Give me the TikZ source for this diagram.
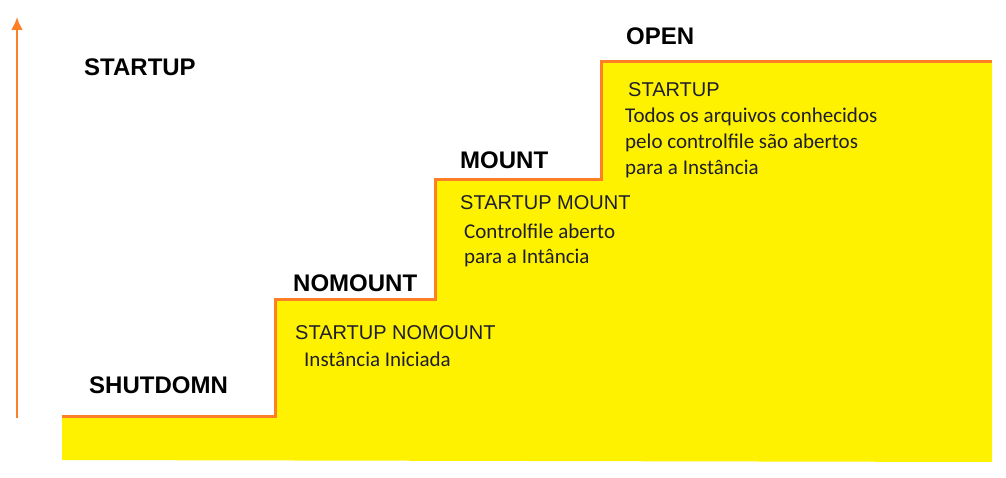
\documentclass[tikz,border=0pt]{standalone}
\usepackage{fontspec}
\setmainfont{Liberation Sans}
\newfontfamily\calibri{Carlito}
\usetikzlibrary{arrows.meta}
\definecolor{amarelo}{RGB}{255,242,0}
\definecolor{laranja}{RGB}{255,127,39}
\definecolor{texto}{RGB}{30,30,45}
\begin{document}
\begin{tikzpicture}[x=1pt, y=-1pt,
    estado/.style={anchor=base west, inner sep=0pt, font=\fontsize{24}{28}\selectfont\bfseries},
    comando/.style={anchor=base west, inner sep=0pt, text=texto, font=\fontsize{20}{24}\selectfont},
    nota/.style={anchor=base west, inner sep=0pt, text=texto, font=\calibri\fontsize{21}{26}\selectfont}]
        \useasboundingbox (0,0) rectangle (1006,478);
        % Escada
        \fill[amarelo] (62,416) -- (275,416) -- (275,299) -- (435,299) -- (435,180) -- (601,180) -- (601,62) -- (992,62) -- (992,462) -- (62,460) -- cycle;
        \draw[laranja, line width=3pt, line join=miter] (62,416) -- (275,416) -- (275,299) -- (435,299) -- (435,180) -- (601,180) -- (601,62) -- (992,62);
        % Eixo
        \coordinate (base) at (17,418);
        \coordinate (topo) at (17,17);
        \draw[-{Latex[length=13pt,width=12pt]}, laranja, line width=2.5pt] (base) -- (topo);
        % Estados
        \node[estado] (startup) at (84,76) {STARTUP};
        \node[estado] (shutdown) at (89,393) {SHUTDOMN};
        \node[estado] (nomount) at (293,291) {NOMOUNT};
        \node[estado] (mount) at (460,169) {MOUNT};
        \node[estado] (open) at (626,45) {OPEN};
        % Comandos e notas
        \node[comando] (cmdnomount) at (295,339) {STARTUP NOMOUNT};
        \node[nota] (notanomount) at (304,366) {Instância Iniciada};
        \node[comando] (cmdmount) at (460,210) {STARTUP MOUNT};
        \node[nota] (notamount1) at (464,239) {Controlfile aberto};
        \node[nota] (notamount2) at (464,264) {para a Intância};
        \node[comando] (cmdopen) at (628,97) {STARTUP};
        \node[nota] (notaopen1) at (625,123) {Todos os arquivos conhecidos};
        \node[nota] (notaopen2) at (625,149) {pelo controlfile são abertos};
        \node[nota] (notaopen3) at (625,175) {para a Instância};
    \end{tikzpicture}
\end{document}
